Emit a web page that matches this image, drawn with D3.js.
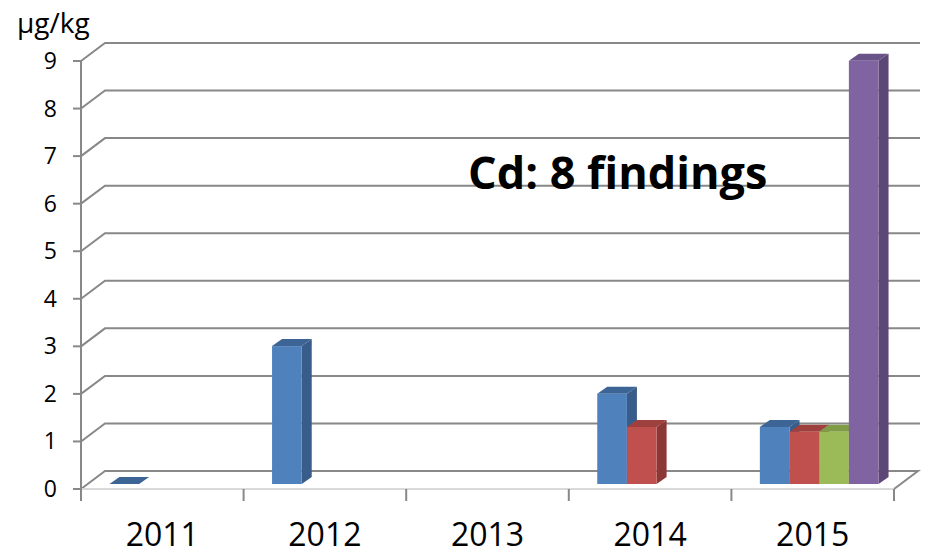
<!DOCTYPE html>
<html>
<head>
<meta charset="utf-8">
<script src="https://cdn.jsdelivr.net/npm/d3@7"></script>
<style>
  body { margin: 0; background: #fff; }
  text { font-family: "Open Sans", "DejaVu Sans", sans-serif; }
</style>
</head>
<body>
<div id="chart"></div>
<script>
// categories and series (one finding per series slot)
const years = ['2011', '2012', '2013', '2014', '2015'];
const seriesNames = ['f1', 'f2', 'f3', 'f4'];
const finding1 = [0, 2.9, null, 1.9, 1.2];
const finding2 = [null, null, null, 1.2, 1.1];
const finding3 = [null, null, null, null, 1.1];
const finding4 = [null, null, null, null, 8.9];
const yTicks = [0, 1, 2, 3, 4, 5, 6, 7, 8, 9];

const seriesValues = [finding1, finding2, finding3, finding4];
const colors = [
  { front: '#4F81BD', side: '#385D8A', top: '#3C6595' },
  { front: '#C0504D', side: '#8C3836', top: '#9E403D' },
  { front: '#9BBB59', side: '#71893F', top: '#7F9C46' },
  { front: '#8064A2', side: '#5C4776', top: '#6A5388' }
];

const width = 927, height = 555;
const left = 81, right = 894, floorY = 489, topY = 61;
const depth = { x: 24, y: -18 };     // back wall offset
const barShift = { x: 6.5, y: -5 };  // bars sit a bit behind the front edge
const barDepth = { x: 10, y: -7 };

const svg = d3.select('#chart').append('svg')
  .attr('width', width)
  .attr('height', height);

const x0 = d3.scaleBand()
  .domain(years)
  .range([left, right])
  .paddingInner(0.27)
  .paddingOuter(0.135);

const x1 = d3.scaleBand()
  .domain(seriesNames)
  .range([0, x0.bandwidth()]);

const y = d3.scaleLinear()
  .domain([0, 9])
  .range([floorY, topY]);

const grid = svg.append('g');

// gridlines on back wall + left wall diagonals
yTicks.forEach((t) => {
  const yy = y(t);
  if (t > 0) {
    grid.append('path')
      .attr('d', `M${left},${yy}L${left + depth.x},${yy + depth.y}L920,${yy + depth.y}`)
      .attr('fill', 'none')
      .attr('stroke', '#888')
      .attr('stroke-width', 2);
  }
  grid.append('line')
    .attr('x1', left - 8).attr('x2', left)
    .attr('y1', yy).attr('y2', yy)
    .attr('stroke', '#888').attr('stroke-width', 2);
  svg.append('text')
    .attr('x', 57)
    .attr('y', yy + 8)
    .attr('text-anchor', 'end')
    .attr('font-size', 23)
    .text(t);
});

// floor
grid.append('path')
  .attr('d', `M${left},${floorY}L${left + depth.x},${floorY + depth.y}L${right + depth.x},${floorY + depth.y}L${right},${floorY}Z`)
  .attr('fill', '#fff')
  .attr('stroke', '#888')
  .attr('stroke-width', 2);
grid.append('line')
  .attr('x1', left).attr('x2', right)
  .attr('y1', floorY).attr('y2', floorY)
  .attr('stroke', '#d9d9d9').attr('stroke-width', 2);

// left axis line
grid.append('line')
  .attr('x1', left).attr('x2', left)
  .attr('y1', topY).attr('y2', floorY)
  .attr('stroke', '#888').attr('stroke-width', 2);

// category ticks
const catEdges = years.map((d) => x0(d) - x0.step() * x0.paddingInner() / 2);
catEdges.push(right);
catEdges.forEach((cx) => {
  grid.append('line')
    .attr('x1', cx).attr('x2', cx)
    .attr('y1', floorY).attr('y2', floorY + 12)
    .attr('stroke', '#888').attr('stroke-width', 2);
});

years.forEach((yr) => {
  svg.append('text')
    .attr('x', x0(yr) + x0.bandwidth() / 2)
    .attr('y', 546)
    .attr('text-anchor', 'middle')
    .attr('font-size', 32)
    .text(yr);
});

// bars
const bars = [];
years.forEach((yr, i) => {
  seriesValues.forEach((vals, s) => {
    if (vals[i] !== null) bars.push({ year: yr, s: s, v: vals[i] });
  });
});

const barG = svg.append('g');
bars.forEach((b) => {
  const bx = x0(b.year) + x1(seriesNames[b.s]) + barShift.x;
  const bw = x1.bandwidth();
  const by = y(b.v) + barShift.y;
  const bb = y(0) + barShift.y;
  const c = colors[b.s];
  const dx = barDepth.x, dy = barDepth.y;
  // side
  barG.append('path')
    .attr('d', `M${bx + bw},${by}L${bx + bw + dx},${by + dy}L${bx + bw + dx},${bb + dy}L${bx + bw},${bb}Z`)
    .attr('fill', c.side);
  // top
  barG.append('path')
    .attr('d', `M${bx},${by}L${bx + dx},${by + dy}L${bx + bw + dx},${by + dy}L${bx + bw},${by}Z`)
    .attr('fill', c.top);
  // front
  barG.append('rect')
    .attr('x', bx).attr('y', by)
    .attr('width', bw).attr('height', bb - by)
    .attr('fill', c.front);
});

// unit and annotation
svg.append('text')
  .attr('x', 17).attr('y', 33)
  .attr('font-size', 28)
  .text('μg/kg');

svg.append('text')
  .attr('x', 468).attr('y', 189)
  .attr('font-size', 45)
  .attr('font-weight', 'bold')
  .text('Cd: 8 findings');
</script>
</body>
</html>
